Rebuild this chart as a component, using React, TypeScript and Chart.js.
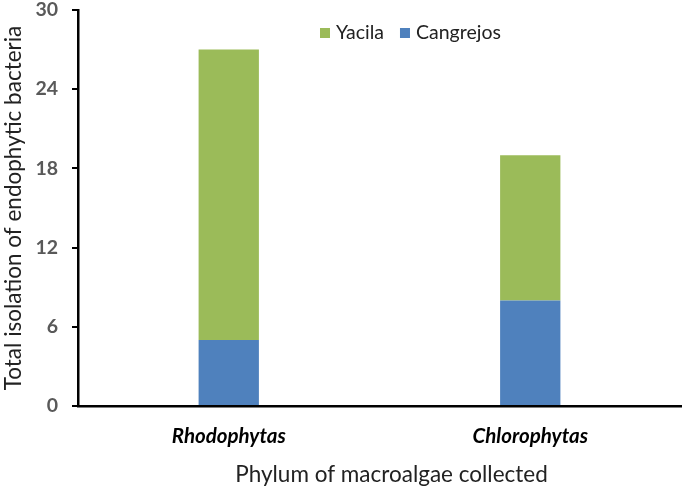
import React, { useEffect, useRef } from "react";
import { Chart, registerables } from "chart.js";

Chart.register(...registerables);

const categories = ["Rhodophytas", "Chlorophytas"];
const cangrejos = [5, 8];
const yacila = [22, 11];
const yTicks = [0, 6, 12, 18, 24, 30];
const xTitle = "Phylum of macroalgae collected";
const yTitle = "Total isolation of endophytic bacteria";

const FONT = "Lato, 'Noto Sans', sans-serif";

const legendPlugin = {
  id: "customLegend",
  afterDraw(chart: any) {
    const ctx = chart.ctx;
    const ds = [...chart.data.datasets].reverse();
    ctx.save();
    ctx.font = `19.5px ${FONT}`;
    ctx.textBaseline = "middle";
    ctx.textAlign = "left";
    let x = 320;
    const y = 33;
    ds.forEach((d: any) => {
      ctx.fillStyle = d.backgroundColor;
      ctx.fillRect(x, y - 5, 10, 10);
      ctx.fillStyle = "#222";
      ctx.fillText(d.label, x + 16, y);
      x += 16 + ctx.measureText(d.label).width + 16;
    });
    // x axis title, offset slightly right of the plot centre as in the reference
    ctx.font = `22.5px ${FONT}`;
    ctx.textAlign = "center";
    ctx.textBaseline = "alphabetic";
    ctx.fillStyle = "#222";
    const area = chart.chartArea;
    ctx.fillText(xTitle, (area.left + area.right) / 2 + 12, chart.height - 10);
    ctx.restore();
  },
};

export default function App() {
  const ref = useRef<HTMLCanvasElement>(null);
  useEffect(() => {
    document.body.style.margin = "0";
    const chart = new Chart(ref.current!, {
      type: "bar",
      data: {
        labels: categories,
        datasets: [
          { label: "Cangrejos", data: cangrejos, backgroundColor: "#4F81BD" },
          { label: "Yacila", data: yacila, backgroundColor: "#9BBB59" },
        ],
      },
      options: {
        animation: false,
        responsive: true,
        maintainAspectRatio: false,
        layout: { padding: { left: 0, top: 0, right: 4, bottom: 0 } },
        plugins: { legend: { display: false }, tooltip: { enabled: false } },
        datasets: { bar: { categoryPercentage: 1, barPercentage: 0.2 } },
        scales: {
          x: {
            stacked: true,
            grid: { display: true, drawOnChartArea: false, drawTicks: false },
            border: { color: "#000", width: 2.5 },
            ticks: {
              color: "#000",
              font: { family: FONT, size: 20.5, weight: "bold", style: "italic" },
              padding: 18,
            },
            afterFit: (s: any) => {
              s.height = 86;
            },
          },
          y: {
            stacked: true,
            min: 0,
            max: 30,
            afterBuildTicks: (s: any) => {
              s.ticks = yTicks.map((v) => ({ value: v }));
            },
            grid: { drawOnChartArea: false, drawTicks: true, tickLength: 6, color: "#000", lineWidth: 2 },
            border: { color: "#000", width: 2.5 },
            ticks: {
              color: "#595959",
              font: { family: FONT, size: 19.5, weight: "bold" },
              padding: 14,
            },
            title: {
              display: true,
              text: yTitle,
              color: "#222",
              font: { family: FONT, size: 22.5 },
              padding: { top: 0, bottom: 0 },
            },
            afterFit: (s: any) => {
              s.width = 78;
              s.paddingTop = 10;
              s.paddingBottom = 0;
            },
          },
        },
      },
      plugins: [legendPlugin],
    });
    return () => chart.destroy();
  }, []);
  return (
    <div style={{ width: 685, height: 492, position: "relative" }}>
      <canvas ref={ref} />
    </div>
  );
}
